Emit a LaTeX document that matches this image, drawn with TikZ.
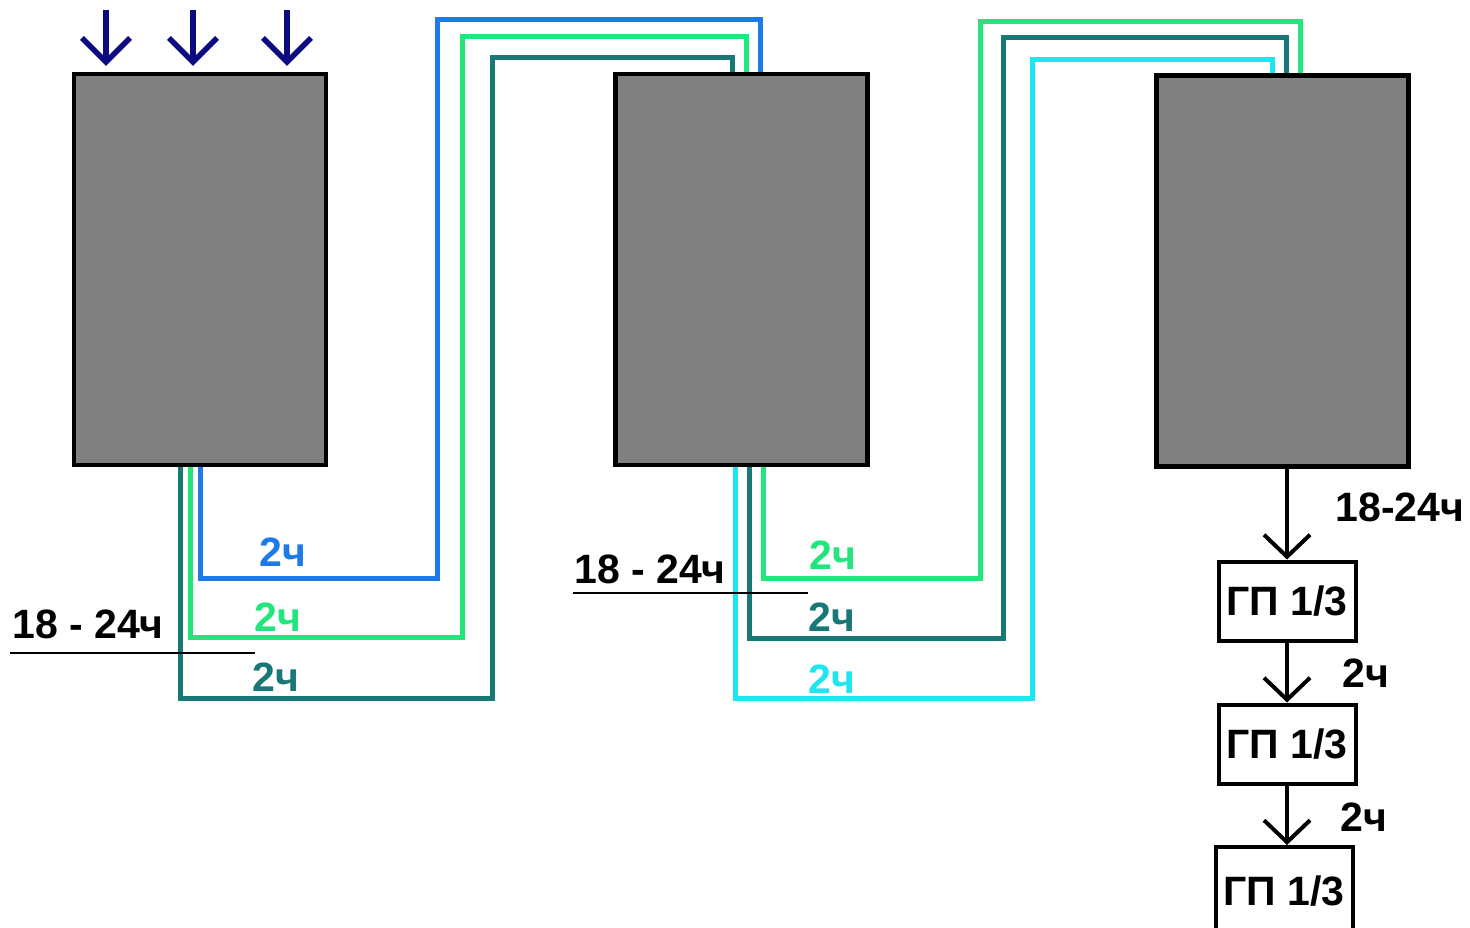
\documentclass[tikz,border=0pt]{standalone}
\usepackage{fontspec}
\setmainfont{Liberation Sans}
\usetikzlibrary{arrows.meta,calc,backgrounds}
\definecolor{cblue}{RGB}{30,122,232}
\definecolor{cgreen}{RGB}{34,230,124}
\definecolor{cteal}{RGB}{24,120,118}
\definecolor{ccyan}{RGB}{30,230,240}
\definecolor{cnavy}{RGB}{12,12,128}
\definecolor{boxgray}{RGB}{128,128,128}
\begin{document}
\begin{tikzpicture}[x=0.5pt,y=-0.5pt,
  bigbox/.style={draw=black, line width=2.2pt, fill=boxgray, minimum width=126pt, minimum height=195.5pt, inner sep=0pt},
  gpbox/.style={draw=black, line width=2pt, fill=white, minimum width=68.5pt, minimum height=39.5pt, inner sep=0pt, font=\fontsize{20.5}{24}\selectfont\bfseries},
  lbl/.style={inner sep=0pt, font=\fontsize{20.5}{24}\selectfont\bfseries},
  pipe/.style={line width=2.5pt},
  inarrow/.style={draw=cnavy, line width=2.7pt, -{Straight Barb[length=12pt,width=24pt]}},
  flow/.style={draw=black, line width=2pt, -{Straight Barb[length=11pt,width=23pt]}},
  uline/.style={draw=black, line width=1pt}]
\useasboundingbox (0,0) rectangle (1470,927);

% main boxes
\node[bigbox] (b1) at (200,269.5) {};
\node[bigbox] (b2) at (741.5,269.5) {};
\node[bigbox] (b3) at (1282.5,271) {};

% small boxes
\node[gpbox] (g1) at (1287,601) {ГП 1/3};
\node[gpbox] (g2) at (1287,744) {ГП 1/3};
\node[gpbox, minimum height=46pt] (g3) at (1284,893) {\raisebox{2.5pt}{ГП 1/3}};

\begin{scope}[on background layer]
\fill[white] (0,0) rectangle (1470,927);
% pipes from box 1 to box 2
\draw[pipe,cblue]  (b1.south) |- (437,578) -- (437,19) -| ($(b2.north)+(18.5,0)$);
\draw[pipe,cgreen] ($(b1.south)+(-10,0)$) |- (462,637) -- (462,36) -| ($(b2.north)+(4.5,0)$);
\draw[pipe,cteal]  ($(b1.south)+(-20,0)$) |- (492,698) -- (492,57) -| ($(b2.north)+(-9.5,0)$);
% pipes from box 2 to box 3
\draw[pipe,cgreen] ($(b2.south)+(21.5,0)$) |- (980,578) -- (980,21) -| ($(b3.north)+(17.5,0)$);
\draw[pipe,cteal]  ($(b2.south)+(7.5,0)$) |- (1003,638) -- (1003,37) -| ($(b3.north)+(3.5,0)$);
\draw[pipe,ccyan]  ($(b2.south)+(-6.5,0)$) |- (1032,698) -- (1032,59) -| ($(b3.north)+(-10.5,0)$);
\end{scope}

% input arrows
\coordinate (in1) at (106,10);
\coordinate (in2) at (193,10);
\coordinate (in3) at (287,10);
\draw[inarrow, shorten >=3pt] (in1) -- (in1 |- b1.north);
\draw[inarrow, shorten >=3pt] (in2) -- (in2 |- b1.north);
\draw[inarrow, shorten >=3pt] (in3) -- (in3 |- b1.north);

% right column flow
\draw[flow] (b3.south -| g1.north) -- (g1.north);
\draw[flow] (g1.south) -- (g1.south |- g2.north);
\draw[flow] (g2.south) -- (g2.south |- g3.north);

% labels box 1
\node[lbl, text=cblue]  (l1) at (283,552) {2ч};
\node[lbl, text=cgreen] (l2) at (278,617) {2ч};
\node[lbl, text=cteal]  (l3) at (276,677) {2ч};
\node[lbl] (t1) at (88,624) {18 - 24ч};
\coordinate (u1a) at (10,653);
\coordinate (u1b) at (255,653);
\draw[uline] (u1a) -- (u1b);

% labels box 2
\node[lbl, text=cgreen] (l4) at (833,555) {2ч};
\node[lbl, text=cteal]  (l5) at (832,617) {2ч};
\node[lbl, text=ccyan]  (l6) at (832,679) {2ч};
\node[lbl] (t2) at (650,569) {18 - 24ч};
\coordinate (u2a) at (573,593);
\coordinate (u2b) at (808,593);
\draw[uline] (u2a) -- (u2b);

% labels right column
\node[lbl] (t3) at (1400,507) {18-24ч};
\node[lbl] (l7) at (1366,673) {2ч};
\node[lbl] (l8) at (1364,817) {2ч};
\end{tikzpicture}
\end{document}
